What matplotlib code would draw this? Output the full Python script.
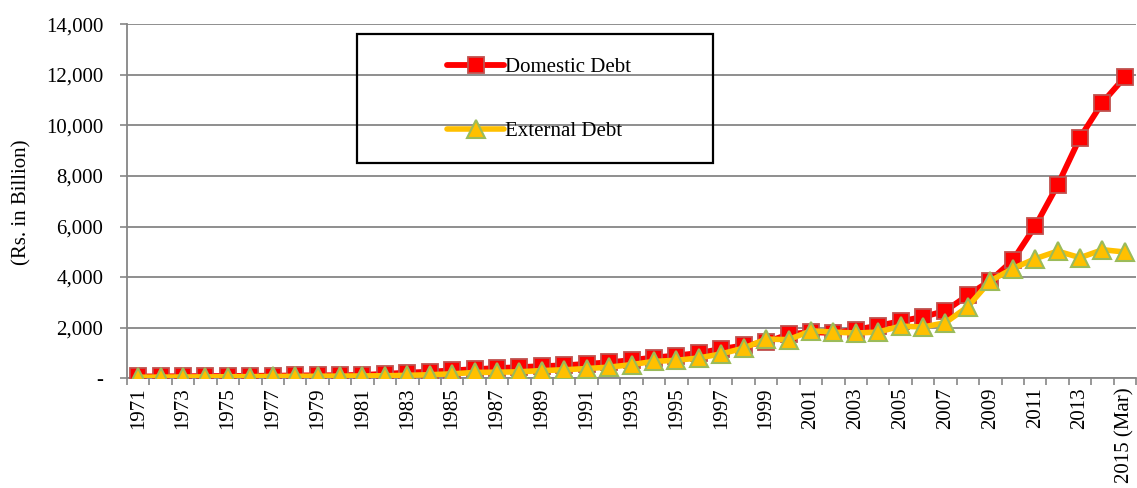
""" Domestic and external debt, 1971 - 2015 (Mar) """

import matplotlib
matplotlib.use('Agg')
import matplotlib.pyplot as plt
from matplotlib.patches import Rectangle
from matplotlib.ticker import FuncFormatter, MultipleLocator

plt.rcParams['font.family'] = ['Liberation Serif', 'DejaVu Serif']

years = [str(y) for y in range(1971, 2015)] + ['2015 (Mar)']

# Rs. in billion
domestic_debt = [
    60, 65, 70, 75, 80, 85, 90, 100, 105, 110,
    120, 165, 210, 250, 300, 350, 390, 430, 470, 500,
    560, 620, 710, 810, 890, 990, 1150, 1290, 1420, 1730,
    1820, 1780, 1920, 2070, 2250, 2420, 2660, 3280, 3860, 4660,
    6010, 7640, 9520, 10910, 11920,
]
external_debt = [
    30, 35, 40, 45, 50, 55, 60, 65, 70, 75,
    80, 90, 105, 130, 165, 220, 230, 245, 295, 325,
    375, 430, 530, 660, 700, 795, 955, 1185, 1540, 1520,
    1870, 1820, 1780, 1820, 2055, 2020, 2190, 2830, 3845, 4335,
    4725, 5025, 4765, 5080, 4990,
]

GRID = '#868686'


def thousands(v, pos):
    if v == 0:
        return '-'
    return '{:,.0f}'.format(v)


fig = plt.figure(figsize=(11.37, 4.88), dpi=100)
ax = fig.add_axes([0.1117, 0.2254, 0.8875, 0.7244])

x = list(range(len(years)))
ax.plot(x, domestic_debt, color='#FF0000', lw=4.2, marker='s', ms=12,
        mfc='#FF0000', mec='#C0504D', mew=1.3, label='Domestic Debt',
        solid_capstyle='round', zorder=3)
ax.plot(x, external_debt, color='#FFC000', lw=4, marker='^', ms=13.5,
        mfc='#FFC000', mec='#9BBB59', mew=1.5, label='External Debt',
        solid_capstyle='round', zorder=4)

ax.set_xlim(-0.5, len(years) - 0.5)
ax.set_ylim(0, 14000)
ax.yaxis.set_major_locator(MultipleLocator(2000))
ax.yaxis.set_major_formatter(FuncFormatter(thousands))
ax.grid(axis='y', color=GRID, lw=1.3)
ax.set_axisbelow(True)

# labels on every other year, tick marks between categories
ax.set_xticks(x[::2])
ax.set_xticklabels(years[::2], rotation=90, fontsize=15)
ax.set_xticks([i - 0.5 for i in range(len(years) + 1)], minor=True)
ax.tick_params(axis='x', which='major', length=0, pad=7)
ax.tick_params(axis='x', which='minor', length=5, color=GRID, width=1.2)
ax.tick_params(axis='y', length=5, color=GRID, width=1.2, pad=12,
               labelsize=15)

for side in ['top', 'right']:
    ax.spines[side].set_visible(False)
for side in ['left', 'bottom']:
    ax.spines[side].set_color(GRID)
    ax.spines[side].set_linewidth(1.3)

fig.text(22 / 1137, 1 - 202 / 488, '(Rs. in Billion)', rotation=90,
         ha='center', va='center', fontsize=15)

# legend box
fig.patches.append(Rectangle((357 / 1137, 1 - 163 / 488),
                             356 / 1137, 129 / 488,
                             transform=fig.transFigure, fill=False,
                             ec='black', lw=1.6, zorder=5))
fig.legend(loc='center left', bbox_to_anchor=(437 / 1137, 1 - 99.5 / 488),
           frameon=False, fontsize=15, numpoints=1, handlelength=2.7,
           handletextpad=0.05, labelspacing=2.15, borderpad=0)

plt.savefig('out.png', dpi=100)
